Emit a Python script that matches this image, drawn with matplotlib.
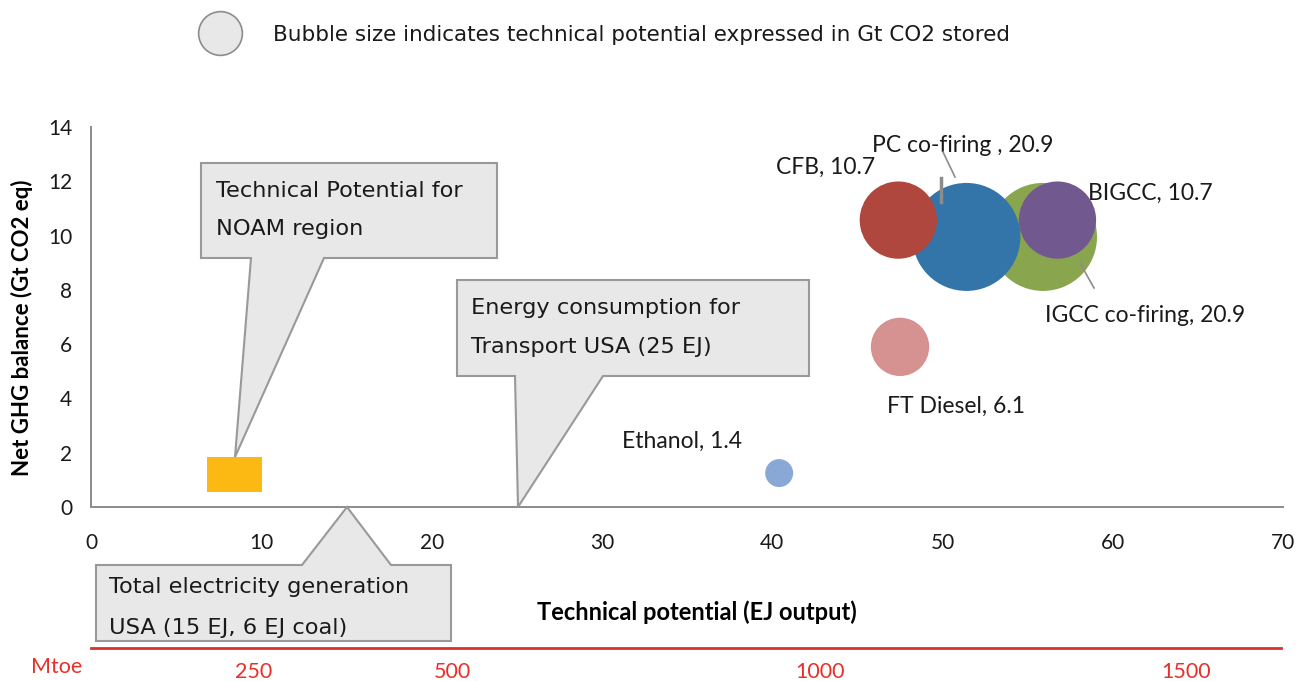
import matplotlib
matplotlib.use("Agg")
import matplotlib.pyplot as plt
from matplotlib.patches import Polygon, Rectangle
from matplotlib.lines import Line2D

# ---------------- data ----------------
names = ["IGCC co-firing", "PC co-firing ", "CFB", "BIGCC", "FT Diesel", "Ethanol"]
tech_potential = [55.9, 51.4, 47.4, 56.75, 47.5, 40.4]      # EJ output (x)
ghg_balance = [9.95, 9.95, 10.57, 10.57, 5.9, 1.25]          # Gt CO2 eq (y)
co2_stored = [20.9, 20.9, 10.7, 10.7, 6.1, 1.4]              # bubble size, Gt CO2
colors = ["#89A54E", "#3375A8", "#B0473E", "#71598F", "#D69290", "#8AA8D6"]

# label anchor positions (data coords, centre) for each bubble's label
label_x = [61.9, 51.2, 43.1, 62.2, 50.8, 34.7]
label_y = [7.04, 13.3, 12.53, 11.57, 3.72, 2.43]

noam_x = [6.8, 10.0]     # Technical potential for NOAM region (rectangle)
noam_y = [0.55, 1.85]

x_ticks = [0, 10, 20, 30, 40, 50, 60, 70]
y_ticks = [0, 2, 4, 6, 8, 10, 12, 14]
mtoe_labels = ["250", "500", "1000", "1500"]
mtoe_pos = [9.5, 21.2, 42.8, 64.3]   # EJ positions of Mtoe labels

LAT = "Lato"
VER = "DejaVu Sans"

W, H = 1309, 681
fig = plt.figure(figsize=(W / 100, H / 100), dpi=100)
ax_l, ax_r, ax_b, ax_t = 91.5, 1283, 507, 127
ax = fig.add_axes([ax_l / W, (H - ax_b) / H, (ax_r - ax_l) / W, (ax_b - ax_t) / H])
ax.set_xlim(0, 70)
ax.set_ylim(0, 14)
for s in ["top", "right"]:
    ax.spines[s].set_visible(False)
for s in ["left", "bottom"]:
    ax.spines[s].set_color("#8c8c8c")
    ax.spines[s].set_linewidth(1.4)
ax.set_xticks(x_ticks)
ax.set_yticks(y_ticks)
ax.tick_params(length=0)
ax.tick_params(axis="x", pad=19)
ax.tick_params(axis="y", pad=14)
for lab in ax.get_xticklabels() + ax.get_yticklabels():
    lab.set_fontfamily(LAT)
    lab.set_fontsize(15)
    lab.set_color("#1a1a1a")

ax.set_xlabel("Technical potential (EJ output)", fontfamily=LAT, fontsize=17,
              fontweight="bold", labelpad=0)
ax.xaxis.set_label_coords((697 - ax_l) / (ax_r - ax_l), -(612 - ax_b) / (ax_b - ax_t))
ax.xaxis.label.set_va("center")
ax.set_ylabel("Net GHG balance (Gt CO2 eq)", fontfamily=LAT, fontsize=16,
              fontweight="bold")
ax.yaxis.set_label_coords(-(ax_l - 22) / (ax_r - ax_l), (ax_b - 328) / (ax_b - ax_t))
ax.yaxis.label.set_va("center")

# ---------------- bubbles ----------------
ref_r_px = 54.0
for xv, yv, v, c in zip(tech_potential, ghg_balance, co2_stored, colors):
    d_pt = 2 * ref_r_px * (v / 20.9) ** 0.5 * 72 / 100
    ax.scatter([xv], [yv], s=d_pt ** 2, color=c, edgecolors="none", zorder=3,
               clip_on=False)

for n, v, lx, ly in zip(names, co2_stored, label_x, label_y):
    ax.text(lx, ly, f"{n}, {v}", fontfamily=LAT, fontsize=16.5, ha="center",
            va="center", color="#1a1a1a", zorder=5)

# leader lines (pixel -> data helpers)
def px2d(px, py):
    return ((px - ax_l) / (ax_r - ax_l) * 70, (ax_b - py) / (ax_b - ax_t) * 14)

for (p0, p1, lw) in [((943, 152), (955, 177), 1.2), ((941, 178), (941, 202), 2.5),
                     ((1080, 263), (1094, 288), 1.2)]:
    a, b = px2d(*p0), px2d(*p1)
    ax.plot([a[0], b[0]], [a[1], b[1]], color="#8c8c8c", lw=lw, zorder=6)

# NOAM rectangle
ax.add_patch(Rectangle((noam_x[0], noam_y[0]), noam_x[1] - noam_x[0],
                       noam_y[1] - noam_y[0], color="#FDB913", lw=0, zorder=3))

# ---------------- callouts ----------------
def callout(verts_px, lines, text_left, text_ys):
    verts = [px2d(*p) for p in verts_px]
    ax.add_patch(Polygon(verts, closed=True, facecolor="#E8E8E8", edgecolor="#999999",
                         lw=1.5, zorder=4, clip_on=False, joinstyle="miter"))
    for t, ty in zip(lines, text_ys):
        x, y = px2d(text_left, ty)
        ax.text(x, y, t, fontfamily=VER, fontsize=16.2, ha="left", va="center",
                color="#1a1a1a", zorder=5, clip_on=False)

callout([(201, 163), (497, 163), (497, 258), (324, 258), (235, 457), (251, 258), (201, 258)],
        ["Technical Potential for", "NOAM region"], 216, [191, 229])
callout([(457, 280), (809, 280), (809, 376), (603, 376), (518, 507), (515, 376), (457, 376)],
        ["Energy consumption for", "Transport USA (25 EJ)"], 471, [308, 347])
callout([(96, 565), (302, 565), (347, 507), (391, 565), (451, 565), (451, 641), (96, 641)],
        ["Total electricity generation", "USA (15 EJ, 6 EJ coal)"], 109, [587, 628])

# ---------------- Mtoe scale ----------------
line_y = 648
ax2 = fig.add_axes([ax_l / W, (H - line_y) / H, (1281 - ax_l) / W, 0.001])
ax2.set_xlim(0, 70 * (1281 - ax_l) / (ax_r - ax_l))
ax2.set_ylim(0, 1)
ax2.patch.set_alpha(0)
for s in ["top", "right", "left"]:
    ax2.spines[s].set_visible(False)
ax2.spines["bottom"].set_color("#D9312B")
ax2.spines["bottom"].set_linewidth(2)
ax2.set_yticks([])
ax2.set_xticks(mtoe_pos)
ax2.set_xticklabels(mtoe_labels)
ax2.tick_params(length=0, pad=10)
for lab in ax2.get_xticklabels():
    lab.set_fontfamily(LAT)
    lab.set_fontsize(15.5)
    lab.set_color("#E8302A")
fig.text(57 / W, (H - 667) / H, "Mtoe", fontfamily=LAT, fontsize=15.5, color="#E8302A",
         ha="center", va="center")

# ---------------- size legend ----------------
fig.add_artist(Line2D([220 / W], [(H - 33) / H], marker="o", markersize=31.5,
                      markerfacecolor="#E8E8E8", markeredgecolor="#8c8c8c",
                      markeredgewidth=1.2, transform=fig.transFigure, linestyle="none"))
fig.text(273 / W, (H - 35) / H,
         "Bubble size indicates technical potential expressed in Gt CO2 stored",
         fontfamily=VER, fontsize=15.5, ha="left", va="center", color="#1a1a1a")

fig.savefig("out.png", dpi=100)
